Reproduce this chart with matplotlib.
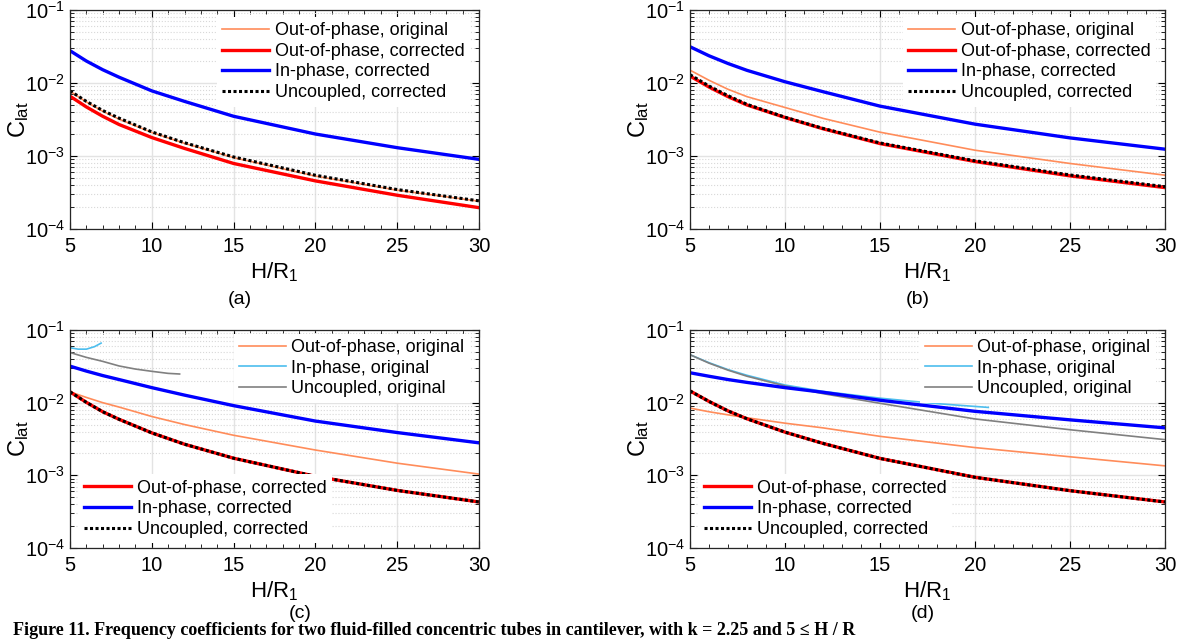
import numpy as np
import matplotlib
matplotlib.use("Agg")
import matplotlib.pyplot as plt
from matplotlib.ticker import LogLocator, MultipleLocator, NullFormatter

plt.rcParams["font.family"] = ["Liberation Sans", "DejaVu Sans"]
plt.rcParams["mathtext.default"] = "regular"

# H/R1 sample points
hr = [5, 6, 7, 8, 10, 12, 15, 20, 25, 30]

# (a)
a_out_orig = [0.0077, 0.0055, 0.0041, 0.0032, 0.0021, 0.00149, 0.00095, 0.00053, 0.00034, 0.00024]
a_out_corr = [0.0066, 0.0047, 0.0035, 0.0027, 0.00179, 0.00127, 0.00079, 0.000456, 0.00029, 0.000196]
a_in_corr = [0.0277, 0.0200, 0.0152, 0.0120, 0.0078, 0.0056, 0.0035, 0.0020, 0.0013, 0.00090]
a_unc_corr = [0.0078, 0.0056, 0.0042, 0.0033, 0.00214, 0.00152, 0.00097, 0.000545, 0.000347, 0.000243]

# (b)
b_out_orig = [0.0150, 0.0109, 0.0082, 0.0065, 0.00462, 0.00328, 0.00212, 0.00120, 0.00079, 0.000546]
b_out_corr = [0.01245, 0.0088, 0.0065, 0.0050, 0.00337, 0.00236, 0.00148, 0.00084, 0.000534, 0.000369]
b_in_corr = [0.0314, 0.0236, 0.0185, 0.0149, 0.0104, 0.0076, 0.00482, 0.00273, 0.00177, 0.00124]
b_unc_corr = [0.0130, 0.0091, 0.0067, 0.0051, 0.0034, 0.00239, 0.00151, 0.00086, 0.00055, 0.00038]

# (c)
c_out_orig = [0.0141, 0.0118, 0.0100, 0.0087, 0.00645, 0.0050, 0.00356, 0.00223, 0.00147, 0.00104]
c_out_corr = [0.0141, 0.0101, 0.0075, 0.0059, 0.00384, 0.00268, 0.00172, 0.00097, 0.00062, 0.00043]
c_in_corr = [0.0318, 0.0272, 0.0236, 0.0208, 0.0161, 0.0127, 0.0091, 0.00558, 0.00388, 0.0028]
c_unc_corr = c_out_corr
c_in_orig_x = [5, 5.5, 6, 6.5, 6.9]
c_in_orig = [0.0570, 0.0545, 0.0545, 0.0590, 0.0660]
c_unc_orig_x = [5, 6, 7, 8, 9, 10, 11, 11.7]
c_unc_orig = [0.049, 0.042, 0.037, 0.032, 0.029, 0.027, 0.0253, 0.0248]

# (d)
d_out_orig = [0.00843, 0.0075, 0.0068, 0.0062, 0.00522, 0.0045, 0.00344, 0.00241, 0.0018, 0.00135]
d_out_corr = [0.0145, 0.0104, 0.0077, 0.0060, 0.00393, 0.00275, 0.00171, 0.00094, 0.000615, 0.00043]
d_in_corr = [0.0258, 0.0231, 0.0208, 0.0190, 0.0161, 0.0139, 0.0108, 0.0076, 0.0058, 0.0045]
d_unc_corr = d_out_corr
d_in_orig_x = [5, 6, 7, 8, 10, 12, 15, 18, 20.7]
d_in_orig = [0.0457, 0.0355, 0.0285, 0.0238, 0.0175, 0.0143, 0.01153, 0.0097, 0.0086]
d_unc_orig = [0.0457, 0.0350, 0.0280, 0.0231, 0.0170, 0.0133, 0.0098, 0.00597, 0.00424, 0.0031]

C_OUT_ORIG = "#FF8C5A"
C_IN_ORIG = "#4DBEEE"
C_UNC_ORIG = "#808080"

LEG_KW = dict(fontsize=13, frameon=True, edgecolor="none", facecolor="white", framealpha=1,
              fancybox=False, handlelength=2.6, handletextpad=0.3, labelspacing=0.2, borderpad=0.3)


def style_axes(ax, width_px):
    ax.set_yscale("log")
    ax.set_xlim(5, 30)
    ax.set_ylim(1e-4, 1e-1)
    ax.xaxis.set_major_locator(MultipleLocator(5))
    ax.xaxis.set_minor_locator(MultipleLocator(1))
    ax.yaxis.set_major_locator(LogLocator(base=10, numticks=10))
    ax.yaxis.set_minor_locator(LogLocator(base=10, subs=np.arange(2, 10), numticks=10))
    ax.yaxis.set_minor_formatter(NullFormatter())
    ax.tick_params(which="both", direction="in", top=True, right=True, labelsize=14.5)
    ax.tick_params(axis="x", which="major", pad=6)
    ax.tick_params(which="major", length=5)
    ax.tick_params(which="minor", length=3)
    ax.grid(True, which="major", color="#E3E3E3", linewidth=1)
    ax.grid(True, which="minor", axis="y", color="#D8D8D8", linestyle=":", linewidth=0.8)
    ax.set_axisbelow(True)
    for s in ax.spines.values():
        s.set_color("#262626")
        s.set_linewidth(0.9)
    ax.set_xlabel("$H/R_1$", fontsize=16, labelpad=3)
    ax.set_ylabel("$C_{lat}$", fontsize=17)
    ax.yaxis.set_label_coords(-39.0 / width_px, 0.5)


def plot_corrected(ax, out_corr, in_corr, unc_corr):
    h1, = ax.plot(hr, out_corr, color="#FF0000", lw=2.4, label="Out-of-phase, corrected")
    h2, = ax.plot(hr, in_corr, color="#0000FF", lw=2.4, label="In-phase, corrected")
    h3, = ax.plot(hr, unc_corr, color="black", lw=2.2, ls=(0, (1, 0.8)), label="Uncoupled, corrected")
    return h1, h2, h3


fig = plt.figure(figsize=(11.81, 6.4), dpi=100)
W, H = 1181.0, 640.0


def add_ax(left, right, top, bottom):
    ax = fig.add_axes([left / W, 1 - bottom / H, (right - left) / W, (bottom - top) / H])
    return ax, right - left


ax_a, wa = add_ax(70, 479, 10, 229)
ax_b, wb = add_ax(690, 1165, 10, 229)
ax_c, wc = add_ax(70, 479, 330, 548)
ax_d, wd = add_ax(690, 1165, 330, 548)

# panels (a) and (b): single legend
for ax, w, oo, oc, ic, uc in [(ax_a, wa, a_out_orig, a_out_corr, a_in_corr, a_unc_corr),
                              (ax_b, wb, b_out_orig, b_out_corr, b_in_corr, b_unc_corr)]:
    style_axes(ax, w)
    h0, = ax.plot(hr, oo, color=C_OUT_ORIG, lw=1.2, label="Out-of-phase, original")
    h1, h2, h3 = plot_corrected(ax, oc, ic, uc)
    ax.legend(handles=[h0, h1, h2, h3], loc="upper right", bbox_to_anchor=(1.0, 1.01), **LEG_KW)

# panels (c) and (d): originals top-right, corrected bottom-left
for ax, w, oo, io_x, io, uo_x, uo, oc, ic, uc in [
        (ax_c, wc, c_out_orig, c_in_orig_x, c_in_orig, c_unc_orig_x, c_unc_orig, c_out_corr, c_in_corr, c_unc_corr),
        (ax_d, wd, d_out_orig, d_in_orig_x, d_in_orig, hr, d_unc_orig, d_out_corr, d_in_corr, d_unc_corr)]:
    style_axes(ax, w)
    g0, = ax.plot(hr, oo, color=C_OUT_ORIG, lw=1.2, label="Out-of-phase, original")
    g1, = ax.plot(io_x, io, color=C_IN_ORIG, lw=1.2, label="In-phase, original")
    g2, = ax.plot(uo_x, uo, color=C_UNC_ORIG, lw=1.2, label="Uncoupled, original")
    h1, h2, h3 = plot_corrected(ax, oc, ic, uc)
    leg1 = ax.legend(handles=[g0, g1, g2], loc="upper right", bbox_to_anchor=(1.0, 1.025), **LEG_KW)
    ax.add_artist(leg1)
    ax.legend(handles=[h1, h2, h3], loc="lower left", bbox_to_anchor=(0.0, -0.02), **LEG_KW)

fig.text(240 / W, 1 - 300 / H, "(a)", ha="center", va="center", fontsize=14)
fig.text(918 / W, 1 - 300 / H, "(b)", ha="center", va="center", fontsize=14)
fig.text(300 / W, 1 - 614 / H, "(c)", ha="center", va="center", fontsize=14)
fig.text(923 / W, 1 - 614 / H, "(d)", ha="center", va="center", fontsize=14)

fig.text(13 / W, 1 - 639 / H,
         "Figure 11. Frequency coefficients for two fluid-filled concentric tubes in cantilever, with k = 2.25 and 5 \u2264 H / R",
         ha="left", va="bottom", fontsize=13, fontweight="bold", family=["Liberation Serif", "DejaVu Serif"])

fig.savefig("out.png", dpi=100)
